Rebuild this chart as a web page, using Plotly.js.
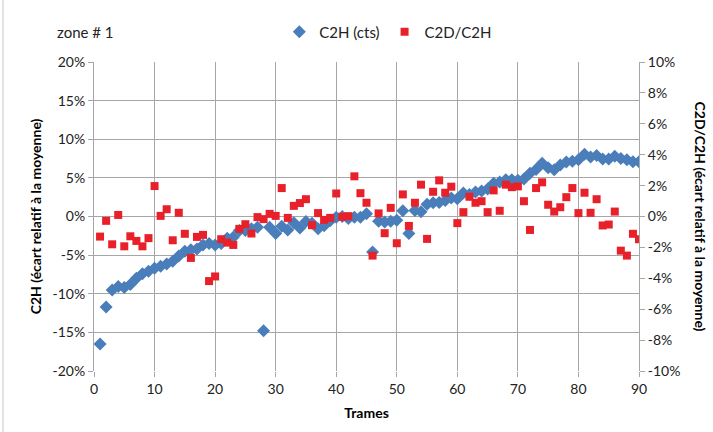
<!DOCTYPE html>
<html>
<head>
<meta charset="utf-8">
<script src="https://cdn.plot.ly/plotly-3.0.1.min.js"></script>
<style>html,body{margin:0;padding:0;background:#fff;}#chart{width:713px;height:432px;}</style>
</head>
<body>
<div id="chart"></div>
<script>
// Frame numbers (Trames)
const trames = Array.from({length: 90}, (_, i) => i + 1);

// C2H (cts) : relative deviation from mean, in %
const c2h = [
  -16.5, -11.7, -9.5, -9.05, -9.2, -8.8, -8.0, -7.4, -7.1, -6.7,
  -6.45, -6.15, -5.8, -5.1, -4.5, -4.3, -4.2, -3.7, -3.5, -3.7,
  -3.5, -2.8, -2.7, -1.8, -1.8, -1.6, -1.4, -14.8, -1.4, -2.2,
  -1.25, -1.75, -0.8, -1.5, -0.65, -0.87, -1.6, -1.2, -0.56, -0.09,
  0, -0.26, -0.09, -0.09, 0.35, -4.6, -0.6, -0.7, -0.6, -0.5,
  0.74, -2.2, 0.78, 0.6, 1.6, 1.78, 1.82, 2.08, 2.38, 2.3,
  3.03, 2.86, 3.16, 3.3, 3.55, 4.3, 4.45, 4.77, 4.77, 4.68,
  4.85, 5.6, 6.1, 6.9, 6.3, 6.06, 6.66, 7.05, 7.14, 7.36,
  8.05, 7.7, 7.9, 7.45, 7.45, 7.8, 7.5, 7.36, 7.1, 7.1
];

// C2D/C2H : relative deviation from mean, in % (right axis)
const c2dc2h = [
  -1.3, -0.28, -1.8, 0.1, -1.93, -1.28, -1.58, -1.93, -1.4, 1.97,
  0.04, 0.47, -1.54, 0.24, -1.12, -2.68, -1.32, -1.19, -4.18, -3.88,
  -1.47, -1.69, -1.84, -0.8, -0.5, -1.1, -0.04, -0.17, 0.17, 0.04,
  1.84, -0.09, 0.69, 0.87, 1.12, -0.56, 0.22, -0.22, -0.09, 1.49,
  -0.02, 0.02, 2.6, 1.51, 0.89, -2.53, 0.2, -1.08, 0.56, -1.73,
  1.43, -0.61, 0.89, 2.06, -1.45, 1.6, 2.34, 1.54, 1.93, -0.43,
  0.28, 1.28, 0.89, 0.99, 0.28, 1.69, 0.37, 2.06, 1.9, 1.95,
  0.99, -0.87, 1.84, 2.21, 0.76, 0.32, 0.6, 1.25, 1.84, 0.22,
  1.54, 0.24, 1.12, -0.58, -0.52, 0.32, -2.21, -2.53, -1.12, -1.47
];

const leftTicks = [-20, -15, -10, -5, 0, 5, 10, 15, 20];
const rightTicks = [-10, -8, -6, -4, -2, 0, 2, 4, 6, 8, 10];
const xTicks = [0, 10, 20, 30, 40, 50, 60, 70, 80, 90];

const FONT = 'Lato, "Liberation Sans", sans-serif';

const traces = [
  {
    x: trames, y: c2h, name: 'C2H (cts)', type: 'scatter', mode: 'markers',
    marker: {symbol: 'diamond', size: 10, color: '#4a7ebb'},
    yaxis: 'y'
  },
  {
    x: trames, y: c2dc2h, name: 'C2D/C2H', type: 'scatter', mode: 'markers',
    marker: {symbol: 'square', size: 8, color: '#e8202a'},
    yaxis: 'y2'
  }
];

const layout = {
  width: 713, height: 432,
  margin: {l: 94, r: 74, t: 62, b: 61},
  paper_bgcolor: '#fff', plot_bgcolor: '#fff',
  font: {family: FONT, size: 14, color: '#222'},
  showlegend: true,
  legend: {
    orientation: 'h', x: 0.34, y: 1.097, xanchor: 'left', yanchor: 'middle',
    font: {family: FONT, size: 15, color: '#222'},
    bgcolor: 'rgba(0,0,0,0)', itemwidth: 30, tracegroupgap: 0
  },
  xaxis: {
    range: [0, 90], tickvals: xTicks, ticktext: xTicks.map(String),
    showgrid: true, gridcolor: '#a6a6a6', gridwidth: 1,
    zeroline: false, showline: false,
    ticks: 'outside', ticklen: 5, tickcolor: '#a6a6a6',
    tickfont: {family: FONT, size: 14, color: '#222'},
    title: {text: '<b>Trames</b>', font: {family: FONT, size: 14, color: '#000'}, standoff: 12}
  },
  yaxis: {
    range: [-20, 20], tickvals: leftTicks, ticktext: leftTicks.map(v => v + '%'),
    showgrid: true, gridcolor: '#a6a6a6', gridwidth: 1,
    zeroline: false, showline: true, linecolor: '#a6a6a6',
    ticks: 'outside', ticklen: 5, tickcolor: '#a6a6a6',
    tickfont: {family: FONT, size: 14, color: '#222'},
    title: {text: '<b>C2H (écart relatif à la moyenne)</b>', font: {family: FONT, size: 14, color: '#000'}, standoff: 7}
  },
  yaxis2: {
    overlaying: 'y', side: 'right',
    range: [-10, 10], tickvals: rightTicks, ticktext: rightTicks.map(v => v + '%'),
    showgrid: false, zeroline: false, showline: true, linecolor: '#a6a6a6',
    ticks: 'outside', ticklen: 5, tickcolor: '#a6a6a6',
    tickfont: {family: FONT, size: 14, color: '#222'}
  },
  annotations: [
    {
      text: 'zone # 1', xref: 'paper', yref: 'paper', x: -0.072, y: 1.097,
      xanchor: 'left', yanchor: 'middle', showarrow: false,
      font: {family: FONT, size: 15, color: '#222'}
    },
    {
      text: '<b>C2D/C2H (écart relatif à la moyenne)</b>', xref: 'paper', yref: 'paper',
      x: (700 - 94) / 545, y: 0.5, xanchor: 'center', yanchor: 'middle',
      textangle: 90, showarrow: false,
      font: {family: FONT, size: 14, color: '#000'}
    }
  ],
  shapes: [
    {type: 'line', xref: 'paper', yref: 'paper', x0: (3 - 94) / 545, x1: (3 - 94) / 545,
     y0: (371 - 432) / 309, y1: (371 - 0) / 309, line: {color: '#c8c8c8', width: 1}}
  ]
};

Plotly.newPlot('chart', traces, layout, {displayModeBar: false, staticPlot: true});
</script>
</body>
</html>
